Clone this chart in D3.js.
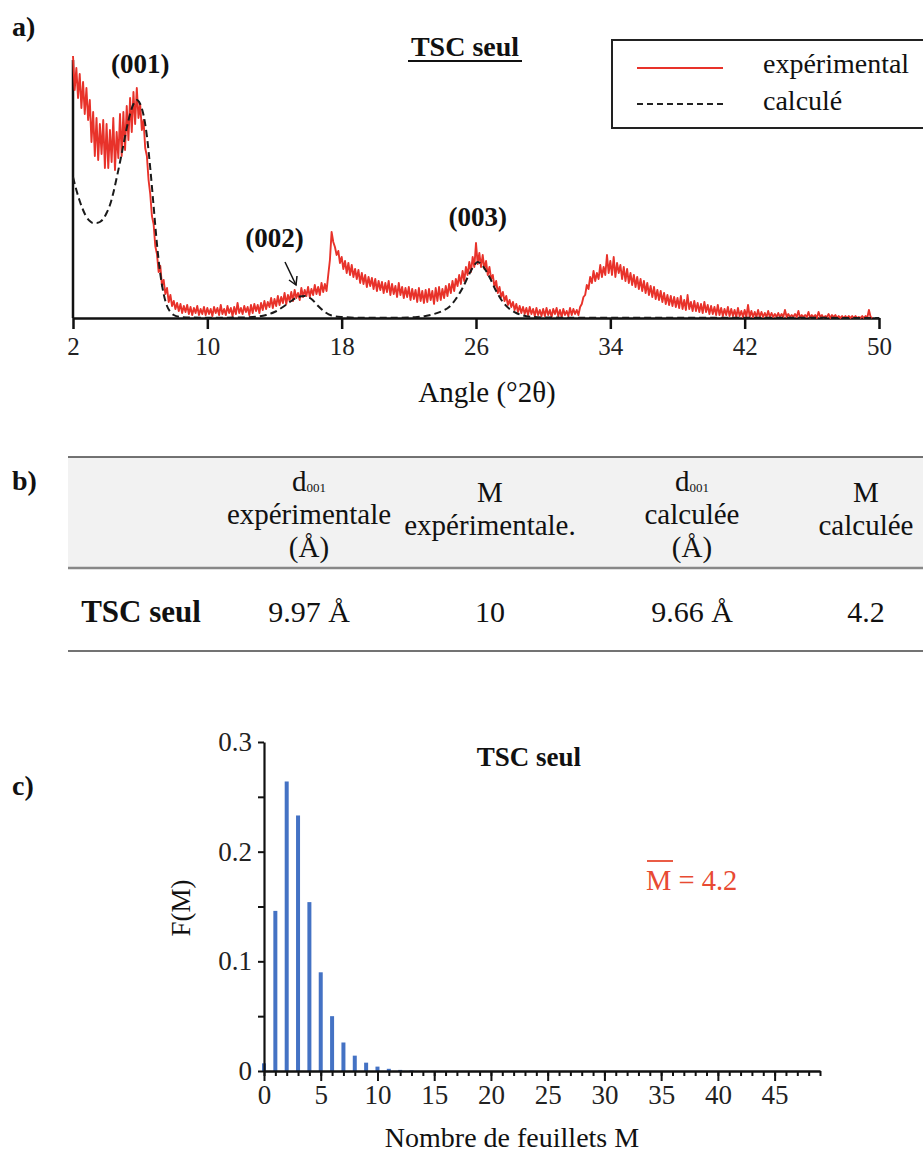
<!DOCTYPE html>
<html><head><meta charset="utf-8">
<script src="https://cdn.jsdelivr.net/npm/d3@7"></script>
<style>
body{margin:0;background:#fff}
svg{display:block}
svg text{font-family:"Liberation Serif","Times New Roman",serif;fill:#111}
</style>
</head><body>
<svg id="chart" width="923" height="1154"></svg>
<script>
// ---------- Panel a : XRD pattern (experimental scan read every 0.1 °2θ) ----------
const xrdAngle = [
2.0,2.1,2.2,2.3,2.4,2.5,2.6,2.7,2.8,2.9, 3.0,3.1,3.2,3.3,3.4,3.5,3.6,3.7,3.8,3.9,
4.0,4.1,4.2,4.3,4.4,4.5,4.6,4.7,4.8,4.9, 5.0,5.1,5.2,5.3,5.4,5.5,5.6,5.7,5.8,5.9,
6.0,6.1,6.2,6.3,6.4,6.5,6.6,6.7,6.8,6.9, 7.0,7.1,7.2,7.3,7.4,7.5,7.6,7.7,7.8,7.9,
8.0,8.1,8.2,8.3,8.4,8.5,8.6,8.7,8.8,8.9, 9.0,9.1,9.2,9.3,9.4,9.5,9.6,9.7,9.8,9.9,
10.0,10.1,10.2,10.3,10.4,10.5,10.6,10.7,10.8,10.9, 11.0,11.1,11.2,11.3,11.4,11.5,11.6,11.7,11.8,11.9,
12.0,12.1,12.2,12.3,12.4,12.5,12.6,12.7,12.8,12.9, 13.0,13.1,13.2,13.3,13.4,13.5,13.6,13.7,13.8,13.9,
14.0,14.1,14.2,14.3,14.4,14.5,14.6,14.7,14.8,14.9, 15.0,15.1,15.2,15.3,15.4,15.5,15.6,15.7,15.8,15.9,
16.0,16.1,16.2,16.3,16.4,16.5,16.6,16.7,16.8,16.9, 17.0,17.1,17.2,17.3,17.4,17.5,17.6,17.7,17.8,17.9,
18.0,18.1,18.2,18.3,18.4,18.5,18.6,18.7,18.8,18.9, 19.0,19.1,19.2,19.3,19.4,19.5,19.6,19.7,19.8,19.9,
20.0,20.1,20.2,20.3,20.4,20.5,20.6,20.7,20.8,20.9, 21.0,21.1,21.2,21.3,21.4,21.5,21.6,21.7,21.8,21.9,
22.0,22.1,22.2,22.3,22.4,22.5,22.6,22.7,22.8,22.9, 23.0,23.1,23.2,23.3,23.4,23.5,23.6,23.7,23.8,23.9,
24.0,24.1,24.2,24.3,24.4,24.5,24.6,24.7,24.8,24.9, 25.0,25.1,25.2,25.3,25.4,25.5,25.6,25.7,25.8,25.9,
26.0,26.1,26.2,26.3,26.4,26.5,26.6,26.7,26.8,26.9, 27.0,27.1,27.2,27.3,27.4,27.5,27.6,27.7,27.8,27.9,
28.0,28.1,28.2,28.3,28.4,28.5,28.6,28.7,28.8,28.9, 29.0,29.1,29.2,29.3,29.4,29.5,29.6,29.7,29.8,29.9,
30.0,30.1,30.2,30.3,30.4,30.5,30.6,30.7,30.8,30.9, 31.0,31.1,31.2,31.3,31.4,31.5,31.6,31.7,31.8,31.9,
32.0,32.1,32.2,32.3,32.4,32.5,32.6,32.7,32.8,32.9, 33.0,33.1,33.2,33.3,33.4,33.5,33.6,33.7,33.8,33.9,
34.0,34.1,34.2,34.3,34.4,34.5,34.6,34.7,34.8,34.9, 35.0,35.1,35.2,35.3,35.4,35.5,35.6,35.7,35.8,35.9,
36.0,36.1,36.2,36.3,36.4,36.5,36.6,36.7,36.8,36.9, 37.0,37.1,37.2,37.3,37.4,37.5,37.6,37.7,37.8,37.9,
38.0,38.1,38.2,38.3,38.4,38.5,38.6,38.7,38.8,38.9, 39.0,39.1,39.2,39.3,39.4,39.5,39.6,39.7,39.8,39.9,
40.0,40.1,40.2,40.3,40.4,40.5,40.6,40.7,40.8,40.9, 41.0,41.1,41.2,41.3,41.4,41.5,41.6,41.7,41.8,41.9,
42.0,42.1,42.2,42.3,42.4,42.5,42.6,42.7,42.8,42.9, 43.0,43.1,43.2,43.3,43.4,43.5,43.6,43.7,43.8,43.9,
44.0,44.1,44.2,44.3,44.4,44.5,44.6,44.7,44.8,44.9, 45.0,45.1,45.2,45.3,45.4,45.5,45.6,45.7,45.8,45.9,
46.0,46.1,46.2,46.3,46.4,46.5,46.6,46.7,46.8,46.9, 47.0,47.1,47.2,47.3,47.4,47.5,47.6,47.7,47.8,47.9,
48.0,48.1,48.2,48.3,48.4,48.5,48.6,48.7,48.8,48.9, 49.0,49.1,49.2,49.3,49.4,49.5,49.6];
const xrdExperimental = [
262,228,250,220,244,210,236,204,230,198, 218,176,206,162,200,158,194,164,198,150,
194,150,188,156,200,148,186,160,204,162, 206,168,212,178,220,186,226,194,230,200,
214,188,198,170,162,138,124,102,94,72, 64,46,52,32,38,24,30,16,23,12,
17,9,15,7,14,5,12,6,13,4, 11,3,10,5,12,3,9,4,11,3,
10,4,9,2,11,5,10,3,13,4, 9,3,12,5,10,2,11,4,15,5,
10,4,12,6,11,3,13,5,14,7, 13,5,15,8,17,9,16,11,20,10,
19,12,22,13,21,15,25,14,23,17, 26,17,28,20,25,18,30,21,28,22,
31,21,29,23,33,24,31,23,35,26, 34,27,43,58,86,76,71,63,67,55,
61,49,57,45,55,43,53,41,49,39, 48,35,45,34,43,31,41,32,40,29,
39,27,37,28,36,25,35,26,37,23, 34,24,32,21,35,23,31,20,30,21,
31,18,29,19,28,16,30,17,27,15, 28,16,29,18,27,14,30,17,31,18,
29,20,32,22,34,25,37,27,39,32, 43,34,47,37,51,43,56,46,61,51,
75,54,65,51,63,49,57,43,51,39, 43,31,37,25,31,21,26,17,22,13,
18,11,16,8,14,6,12,5,11,4, 10,3,11,4,9,2,10,3,8,2,
9,2,10,3,8,1,9,4,10,2, 8,1,9,3,7,2,10,3,9,4,
8,3,11,14,21,23,33,29,41,35, 47,37,45,39,53,41,51,43,63,45,
57,43,61,41,55,45,53,39,51,37, 49,35,45,33,43,31,41,29,39,27,
37,25,35,23,32,21,31,19,28,18, 27,16,25,14,23,13,22,12,21,11,
20,10,22,9,18,8,23,9,16,7, 17,7,15,6,14,5,16,6,13,4,
12,4,11,3,13,3,10,2,9,3, 11,2,9,2,8,1,10,2,7,1,
8,1,13,1,7,1,6,1,8,1, 6,1,5,1,7,1,5,1,4,1,
5,1,4,1,8,1,4,1,3,1, 4,1,7,0,3,1,3,1,6,0,
3,1,3,0,6,1,3,0,2,1, 4,0,3,1,3,0,2,0,2,0,
2,0,2,0,2,0,2,0,1,0, 2,0,2,0,8,1,0];
const calcAngle = [2.0,2.2,2.4,2.6,2.8,3.0,3.2,3.4,3.6,3.8,4.0,4.2,4.4,4.6,4.8,5.0,5.2,5.4,5.6,5.8,6.0,6.2,6.4,6.6,6.8,7.0,7.2,7.4,7.6,7.8,8.0,8.4,
9.0,10.0,12.0,13.0,13.5,14.0,14.5,15.0,15.4,15.8,16.2,16.6,17.0,17.4,18.0,19.0,21.0,22.0,22.5,23.0,23.5,24.0,24.4,24.8,25.2,25.6,25.9,26.1,
26.4,26.8,27.2,27.6,28.0,28.4,28.8,29.4,30.0,32.0,40.0,50.0];
const calcIntensity = [141,128,117,108,101,97,95,95,96,99,105,113,125,140,156,173,190,204,214,218,214,203,182,150,112,74,44,24,12,6,3,1,
0.5,0.3,0.5,1.5,3,6,11,17,21,22,19,12,6,2.5,1,0.3,0.2,0.6,1,2,4,7,11,19,30,44,53,56,
52,41,27,16,9,5,2.5,1,0.5,0.3,0.2,0.1];
const xrdTicks = [2,10,18,26,34,42,50];
const peakNames = ["(001)","(002)","(003)"];
const peakAngles = [6.0,14.0,26.1];
const legendNames = ["expérimental","calculé"];

// ---------- Panel b : table ----------
const tableHeaders = [[],["d|001","expérimentale","(Å)"],["M","expérimentale."],["d|001","calculée","(Å)"],["M","calculée"]];
const tableRow = ["TSC seul","9.97 Å","10","9.66 Å","4.2"];

// ---------- Panel c : layer-number distribution ----------
const sheetsM = [0,1,2,3,4,5,6,7,8,9,10,11,12,13];
const freqF = [0.007,0.146,0.264,0.233,0.154,0.090,0.050,0.026,0.014,0.0076,0.004,0.002,0.001,0.0005];
const fTicks = [0,0.05,0.1,0.15,0.2,0.25,0.3];
const fTickLabels = ["0","","0.1","","0.2","","0.3"];
const mTicks = [0,5,10,15,20,25,30,35,40,45];
const meanM = "4.2";

const RED = "#e8322a";
const FONT = "'Liberation Serif', 'Times New Roman', serif";
const svg = d3.select("#chart");

function txt(x, y, s, size, opt = {}) {
  const t = svg.append("text").attr("x", x).attr("y", y).attr("font-size", size)
    .attr("font-family", FONT)
    .attr("text-anchor", opt.anchor || "middle").text(s);
  if (opt.bold) t.attr("font-weight", "bold");
  if (opt.fill) t.style("fill", opt.fill);
  return t;
}

// panel labels
txt(12, 36, "a)", 28, {anchor: "start", bold: true});
txt(12, 490, "b)", 28, {anchor: "start", bold: true});
txt(12, 795, "c)", 28, {anchor: "start", bold: true});

// ===== Panel a =====
const ax = d3.scaleLinear().domain([2, 50]).range([73, 879]);
const ay = d3.scaleLinear().domain([0, 270]).range([318, 48]);

const gxa = svg.append("g").attr("transform", `translate(0,${ay(0)})`)
  .call(d3.axisBottom(ax).tickValues(xrdTicks).tickSize(11).tickSizeOuter(0).tickPadding(8));
gxa.attr("font-family", FONT);
gxa.select(".domain").attr("stroke", "#111").attr("stroke-width", 2.5);
gxa.selectAll(".tick line").attr("stroke", "#111").attr("stroke-width", 2.5);
gxa.selectAll(".tick text").attr("font-size", 25).attr("font-family", FONT).style("fill", "#222");

svg.append("line").attr("x1", ax(2)).attr("x2", ax(2)).attr("y1", ay(0)).attr("y2", ay(258))
  .attr("stroke", "#111").attr("stroke-width", 2.5);

const expLine = d3.line().x((d, i) => ax(xrdAngle[i])).y(d => ay(d));
svg.append("path").datum(xrdExperimental).attr("d", expLine)
  .attr("fill", "none").attr("stroke", RED).attr("stroke-width", 1.9).attr("stroke-linejoin", "round");

const calcLine = d3.line().x((d, i) => ax(calcAngle[i])).y(d => ay(d)).curve(d3.curveMonotoneX);
svg.append("path").datum(calcIntensity).attr("d", calcLine)
  .attr("fill", "none").attr("stroke", "#1a1a1a").attr("stroke-width", 2).attr("stroke-dasharray", "7,4");

txt(487, 402, "Angle (°2θ)", 29);
txt(465, 56, "TSC seul", 28, {bold: true});
svg.append("line").attr("x1", 408).attr("x2", 522).attr("y1", 61).attr("y2", 61).attr("stroke", "#111").attr("stroke-width", 1.8);

// peak labels
txt(ax(peakAngles[0]), 73, peakNames[0], 27, {bold: true});
txt(ax(peakAngles[1]), 247, peakNames[1], 27, {bold: true});
txt(ax(peakAngles[2]), 226, peakNames[2], 27, {bold: true});
// arrow to (002)
svg.append("line").attr("x1", 285).attr("y1", 262).attr("x2", 296).attr("y2", 285).attr("stroke", "#111").attr("stroke-width", 1.5);
svg.append("path").attr("d", "M289,280 L296,285 L297,276").attr("fill", "none").attr("stroke", "#111").attr("stroke-width", 1.5);

// legend
svg.append("rect").attr("x", 612).attr("y", 40).attr("width", 320).attr("height", 88)
  .attr("fill", "#fff").attr("stroke", "#222").attr("stroke-width", 2);
svg.append("line").attr("x1", 637).attr("x2", 723).attr("y1", 68).attr("y2", 68).attr("stroke", RED).attr("stroke-width", 2);
svg.append("line").attr("x1", 637).attr("x2", 723).attr("y1", 104).attr("y2", 104).attr("stroke", "#222").attr("stroke-width", 2).attr("stroke-dasharray", "6,4");
txt(763, 73, legendNames[0], 28, {anchor: "start"});
txt(763, 110, legendNames[1], 28, {anchor: "start"});

// ===== Panel b : table =====
const colX = [141, 309, 490, 692, 866];
svg.append("rect").attr("x", 68).attr("y", 457).attr("width", 855).attr("height", 111).attr("fill", "#f2f2f2");
svg.append("line").attr("x1", 68).attr("x2", 923).attr("y1", 457).attr("y2", 457).attr("stroke", "#444").attr("stroke-width", 1.5);
svg.append("line").attr("x1", 68).attr("x2", 923).attr("y1", 568).attr("y2", 568).attr("stroke", "#888").attr("stroke-width", 2.5);
svg.append("line").attr("x1", 68).attr("x2", 923).attr("y1", 651).attr("y2", 651).attr("stroke", "#444").attr("stroke-width", 1.5);

tableHeaders.forEach((lines, c) => {
  const y0 = lines.length === 3 ? 491 : 502;
  lines.forEach((s, k) => {
    const y = y0 + k * 33;
    if (s.includes("|")) {
      const [main, sub] = s.split("|");
      const t = svg.append("text").attr("x", colX[c]).attr("y", y).attr("font-size", 29)
        .attr("font-family", FONT).attr("text-anchor", "middle");
      t.append("tspan").text(main);
      t.append("tspan").attr("font-size", 13).attr("dy", 1).text(sub);
    } else {
      txt(colX[c], y, s, 29);
    }
  });
});
tableRow.forEach((s, c) => txt(colX[c], 622, s, c === 0 ? 31 : 30, {bold: c === 0}));

// ===== Panel c : bars =====
const bx = d3.scaleLinear().domain([0, 49]).range([264, 820]);
const by = d3.scaleLinear().domain([0, 0.3]).range([1071, 742]);

svg.append("g").selectAll("rect").data(freqF).join("rect")
  .attr("x", (d, i) => bx(sheetsM[i]) - 2).attr("width", 4)
  .attr("y", d => by(d)).attr("height", d => by(0) - by(d))
  .attr("fill", "#4472c4");

const gyc = svg.append("g").attr("transform", `translate(${bx(0)},0)`)
  .call(d3.axisLeft(by).tickValues(fTicks).tickFormat((d, i) => fTickLabels[i]).tickSize(6).tickSizeOuter(0).tickPadding(6));
const gxm = svg.append("g").attr("transform", `translate(0,${by(0)})`)
  .call(d3.axisBottom(bx).tickValues(d3.range(0, 50)).tickFormat("").tickSize(5).tickSizeOuter(0));
const gxc = svg.append("g").attr("transform", `translate(0,${by(0)})`)
  .call(d3.axisBottom(bx).tickValues(mTicks).tickSize(10).tickSizeOuter(0).tickPadding(4));
[gyc, gxm, gxc].forEach(g => {
  g.attr("font-family", FONT);
  g.select(".domain").attr("stroke", "#111").attr("stroke-width", 2.2);
  g.selectAll(".tick line").attr("stroke", "#111").attr("stroke-width", 2);
  g.selectAll(".tick text").attr("font-size", 27).attr("font-family", FONT).style("fill", "#222");
});

txt(529, 766, "TSC seul", 27, {bold: true});
svg.append("text").attr("transform", "translate(190,908) rotate(-90)").attr("text-anchor", "middle")
  .attr("font-family", FONT).attr("font-size", 27).text("F(M)");
txt(512, 1147, "Nombre de feuillets M", 28);

// mean M
const mt = svg.append("text").attr("x", 646).attr("y", 890).attr("font-size", 28.5)
  .attr("font-family", FONT).attr("text-anchor", "start").style("fill", "#e84a32");
mt.append("tspan").text("M");
mt.append("tspan").text(" = " + meanM);
svg.append("line").attr("x1", 647).attr("x2", 673).attr("y1", 861).attr("y2", 861).attr("stroke", "#e84a32").attr("stroke-width", 1.8);
</script>
</body></html>
